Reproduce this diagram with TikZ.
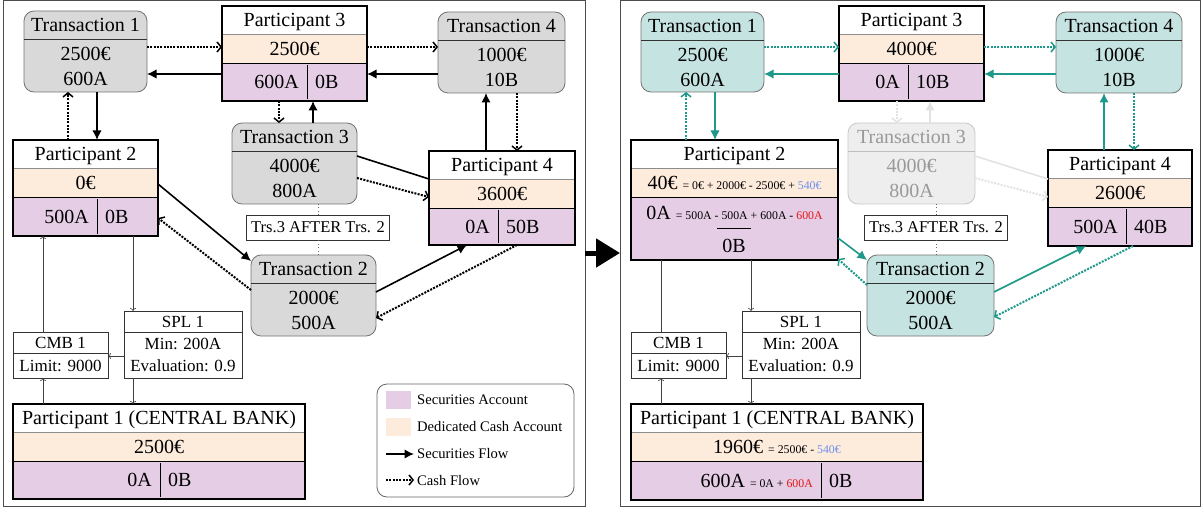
\documentclass[tikz,border=0pt]{standalone}
\usepackage{fontspec}
\setmainfont{Liberation Serif}
\usetikzlibrary{arrows.meta,calc,fit}
\definecolor{peach}{RGB}{253,235,220}
\definecolor{lilac}{RGB}{229,205,229}
\definecolor{tgray}{RGB}{217,217,217}
\definecolor{tteal}{RGB}{197,227,224}
\definecolor{teal2}{RGB}{30,152,136}
\definecolor{fadef}{RGB}{238,238,238}
\definecolor{fadel}{RGB}{226,226,226}
\definecolor{bluev}{RGB}{108,142,239}
\definecolor{redv}{RGB}{228,20,20}
\colorlet{flowcol}{black}
\colorlet{tfill}{tgray}
\colorlet{tborder}{black!55}
\colorlet{theadcol}{black!80}
\colorlet{ttextcol}{black}
\newcommand\bigf{\fontsize{20}{22}\selectfont}
\newcommand\smallf{\fontsize{11.8}{13}\selectfont}
\newcommand\legf{\fontsize{14.6}{16}\selectfont}
\newcommand\boxf{\fontsize{17}{19}\selectfont}
\newcommand\ordf{\fontsize{16.5}{19}\selectfont}
\tikzset{
 ttext/.style={font=\bigf, inner sep=0pt, text height=13.2pt, text depth=0pt, text=ttextcol},
 ptext/.style={font=\bigf, inner sep=0pt, text height=13.2pt, text depth=0pt},
 btext/.style={font=\boxf, inner sep=0pt, text height=11.3pt, text depth=0pt},
 ltext/.style={font=\legf, inner sep=0pt, text height=9.7pt, text depth=0pt, anchor=west},
 tbox/.style={draw=tborder, fill=tfill, rounded corners=10pt, inner sep=0pt, outer sep=0pt, line width=0.8pt},
 thead/.style={draw=theadcol, line width=0.8pt},
 pbox/.style={draw=black, line width=1.1pt, inner sep=0pt, outer sep=0pt},
 sbox/.style={draw=black!80, line width=0.8pt, inner sep=0pt, outer sep=0pt},
 sline/.style={draw=black!80, line width=0.8pt},
 secflow/.style={draw=flowcol, line width=1.6pt, -{Latex[length=9.5pt,width=9.5pt]}},
 secline/.style={draw=flowcol, line width=1.6pt},
 cashflow/.style={draw=flowcol, line width=2pt, dash pattern=on 2pt off 1.3pt, -{Straight Barb[length=4pt,width=10pt,line width=1.5pt]}},
 fadesec/.style={draw=fadel, line width=1.6pt, -{Latex[length=9.5pt,width=9.5pt]}},
 fadeline/.style={draw=fadel, line width=1.6pt},
 fadecash/.style={draw=fadel, line width=2pt, dash pattern=on 2pt off 1.3pt, -{Straight Barb[length=4pt,width=10pt,line width=1.5pt]}},
 thinarrow/.style={draw=black!75, line width=0.6pt, -{To[length=3pt,width=6pt]}},
 thinline/.style={draw=black!75, line width=0.6pt},
 orderline/.style={draw=black!60, line width=0.8pt, dash pattern=on 1pt off 2.5pt},
 orderbox/.style={draw=black!80, line width=0.8pt, font=\ordf, inner xsep=5pt, inner ysep=0pt, text height=11pt, text depth=0pt, minimum height=25pt},
 frame/.style={draw=black!70, line width=1pt},
 legbox/.style={draw=black!60, line width=0.8pt, rounded corners=10pt, inner sep=0pt, outer sep=0pt},
}
% transaction box: name x1 y1 x2 y2 title line1 line2
\newcommand\transbox[8]{%
 \node[tbox, fit={(#2,#3) (#4,#5)}] (#1) {};
 \draw[thead] ($(#1.north west)+(0,28)$) -- ($(#1.north east)+(0,28)$);
 \node[ttext] at ($(#1.north)+(0,14)$) {#6};
 \node[ttext] at ($(#1.north)+(0,43)$) {#7};
 \node[ttext] at ($(#1.north)+(0,68)$) {#8};
}
% participant box: name x1 y1 x2 y2 title cash
\newcommand\partbox[7]{%
 \fill[white] (#2,#3) rectangle (#4,#3+28);
 \fill[peach] (#2,#3+28) rectangle (#4,#3+57);
 \fill[lilac] (#2,#3+57) rectangle (#4,#5);
 \draw[black!45, line width=0.5pt] (#2,#3+28) -- (#4,#3+28);
 \draw[black, line width=0.9pt] (#2,#3+57) -- (#4,#3+57);
 \node[pbox, fit={(#2,#3) (#4,#5)}] (#1) {};
 \node[ptext] at ({(#2+#4)/2},#3+14) {#6};
 \node[ptext] at ({(#2+#4)/2},#3+42.5) {#7};
}
% securities row: xsplit ytop ybottom secA secB
\newcommand\secs[5]{%
 \draw[black, line width=0.8pt] (#1,#2+2) -- (#1,#3-2);
 \node[ptext, anchor=east] at (#1-8,{(#2+#3)/2}) {#4};
 \node[ptext, anchor=west] at (#1+8,{(#2+#3)/2}) {#5};
}
\begin{document}
\begin{tikzpicture}[x=1pt,y=-1pt]
\useasboundingbox (0,0) rectangle (1203,508);
%================ LEFT PANEL
\draw[frame] (3,1) rectangle (585,506);
\transbox{t1}{24}{11}{147}{92}{Transaction 1}{2500€}{600A}
\transbox{t4}{438}{12}{565}{93}{Transaction 4}{1000€}{10B}
\transbox{t3}{232}{123}{357}{204}{Transaction 3}{4000€}{800A}
\transbox{t2}{251}{255}{376}{336}{Transaction 2}{2000€}{500A}
\partbox{p3}{222}{6}{367}{101}{Participant 3}{2500€}
\secs{307}{63}{101}{600A}{0B}
\partbox{p2}{13}{140}{158}{236}{Participant 2}{0€}
\secs{97}{197}{236}{500A}{0B}
\partbox{p4}{429}{151}{575}{245}{Participant 4}{3600€}
\secs{498}{208}{245}{0A}{50B}
\partbox{p1}{13}{404}{305}{499}{Participant 1 (CENTRAL BANK)}{2500€}
\secs{160}{461}{499}{0A}{0B}
\node[orderbox] (ord) at (318,227.5) {Trs.3 AFTER Trs. 2};
\draw[orderline] (t3.south -| ord.center) -- (ord.north);
\draw[orderline] (ord.south) -- (t2.north -| ord.center);
\node[sbox, fit={(13,332) (108,378)}] (cmb) {};
\draw[sline] (13,353) -- (108,353);
\node[btext] at (60.5,342.5) {CMB 1};
\node[btext] at (60.5,366) {Limit: 9000};
\node[sbox, fit={(124,311) (242,378)}] (spl) {};
\draw[sline] (124,332) -- (242,332);
\node[btext] at (183,321.5) {SPL 1};
\node[btext] at (183,344) {Min: 200A};
\node[btext] at (183,366) {Evaluation: 0.9};
\draw[thinarrow] (cmb.north -| 43,0) -- (p2.south -| 43,0);
\draw[thinarrow] (p2.south -| 133,0) -- (spl.north -| 133,0);
\draw[thinarrow] (spl.west |- 0,356) -- (cmb.east |- 0,356);
\draw[thinarrow] (spl.south -| 133,0) -- (p1.north -| 133,0);
\draw[thinarrow] (p1.north -| 43,0) -- (cmb.south -| 43,0);
\draw[cashflow] (t1.east |- 0,47) -- (p3.west |- 0,47);
\draw[secflow] (p3.west |- 0,74) -- (t1.east |- 0,74);
\draw[cashflow] (p3.east |- 0,47) -- (t4.west |- 0,47);
\draw[secflow] (t4.west |- 0,74) -- (p3.east |- 0,74);
\draw[secflow] (t1.south -| 97,0) -- (p2.north -| 97,0);
\draw[cashflow] (p2.north -| 68,0) -- (t1.south -| 68,0);
\draw[cashflow] (p3.south -| 279,0) -- (t3.north -| 279,0);
\draw[secflow] (t3.north -| 313,0) -- (p3.south -| 313,0);
\draw[secflow] (p4.north -| 486,0) -- (t4.south -| 486,0);
\draw[cashflow] (t4.south -| 517,0) -- (p4.north -| 517,0);
\draw[secline] (t3.east |- 0,156) -- (p4.west |- 0,179);
\draw[cashflow] (t3.east |- 0,178) -- (p4.west |- 0,197);
\draw[secflow] (p2.east |- 0,184) -- (t2.west |- 0,261);
\draw[cashflow] (t2.west |- 0,290) -- (p2.east |- 0,218);
\draw[secflow] (t2.east |- 0,292) -- (p4.south -| 467,0);
\draw[cashflow] (p4.south -| 517,0) -- (t2.east |- 0,318);
% legend
\node[legbox, fit={(377,384) (574,497)}] (leg) {};
\fill[lilac] (386,391) rectangle (411,409);
\node[ltext] (lg1) at (417,400) {Securities Account};
\fill[peach] (386,418) rectangle (411,436);
\node[ltext] (lg2) at (417,427) {Dedicated Cash Account};
\coordinate (ls1) at (386,454); \coordinate (ls2) at (414,454);
\draw[secflow] (ls1) -- (ls2);
\node[ltext] (lg3) at (417,454) {Securities Flow};
\coordinate (lc1) at (386,480); \coordinate (lc2) at (414,480);
\draw[cashflow] (lc1) -- (lc2);
\node[ltext] (lg4) at (417,481) {Cash Flow};
%================ BIG ARROW
\coordinate (ba1) at (585,253); \coordinate (ba2) at (620,253);
\draw[line width=5pt, -{Triangle[length=24pt,width=28pt]}] (ba1) -- (ba2);
%================ RIGHT PANEL
\draw[frame] (620,1) rectangle (1200,506);
\begin{scope}
\colorlet{flowcol}{teal2}
\colorlet{tfill}{tteal}
\transbox{rt1}{641}{12}{764}{92}{Transaction 1}{2500€}{600A}
\transbox{rt4}{1056}{12}{1182}{93}{Transaction 4}{1000€}{10B}
\transbox{rt2}{867}{255}{994}{336}{Transaction 2}{2000€}{500A}
\begin{scope}
\colorlet{tfill}{fadef}
\colorlet{tborder}{black!22}
\colorlet{theadcol}{black!25}
\colorlet{ttextcol}{black!40}
\transbox{rt3}{848}{123}{975}{204}{Transaction 3}{4000€}{800A}
\end{scope}
\partbox{rp3}{839}{6}{984}{101}{Participant 3}{4000€}
\secs{908}{63}{101}{0A}{10B}
\partbox{rp4}{1048}{150}{1192}{246}{Participant 4}{2600€}
\secs{1126}{207}{246}{500A}{40B}
\partbox{rp2}{631}{140}{838}{260}{Participant 2}{40€ {\smallf = 0€ + 2000€ - 2500€ + \textcolor{bluev}{540€}}}
\node[ptext] at (734.5,213) {0A {\smallf = 500A - 500A + 600A - \textcolor{redv}{600A}}};
\draw[black, line width=0.8pt] (717,228) -- (751,228);
\node[ptext] at (734,246) {0B};
\partbox{rp1}{631}{404}{923}{500}{Participant 1 (CENTRAL BANK)}{1960€ {\smallf = 2500€ - \textcolor{bluev}{540€}}}
\secs{821}{461}{500}{600A {\smallf = 0A + \textcolor{redv}{600A}}}{0B}
\node[orderbox] (rord) at (936,227.5) {Trs.3 AFTER Trs. 2};
\draw[orderline] (rt3.south -| rord.center) -- (rord.north);
\draw[orderline] (rord.south) -- (rt2.north -| rord.center);
\node[sbox, fit={(631,332) (726,378)}] (rcmb) {};
\draw[sline] (631,353) -- (726,353);
\node[btext] at (678.5,342.5) {CMB 1};
\node[btext] at (678.5,366) {Limit: 9000};
\node[sbox, fit={(742,311) (860,378)}] (rspl) {};
\draw[sline] (742,332) -- (860,332);
\node[btext] at (801,321.5) {SPL 1};
\node[btext] at (801,344) {Min: 200A};
\node[btext] at (801,366) {Evaluation: 0.9};
\draw[thinline] (rcmb.north -| 661,0) -- (rp2.south -| 661,0);
\draw[thinarrow] (rp2.south -| 751,0) -- (rspl.north -| 751,0);
\draw[thinarrow] (rspl.west |- 0,356) -- (rcmb.east |- 0,356);
\draw[thinarrow] (rspl.south -| 751,0) -- (rp1.north -| 751,0);
\draw[thinarrow] (rp1.north -| 661,0) -- (rcmb.south -| 661,0);
\draw[cashflow] (rt1.east |- 0,47) -- (rp3.west |- 0,47);
\draw[secflow] (rp3.west |- 0,74) -- (rt1.east |- 0,74);
\draw[cashflow] (rp3.east |- 0,47) -- (rt4.west |- 0,47);
\draw[secflow] (rt4.west |- 0,74) -- (rp3.east |- 0,74);
\draw[secflow] (rt1.south -| 715,0) -- (rp2.north -| 715,0);
\draw[cashflow] (rp2.north -| 686,0) -- (rt1.south -| 686,0);
\draw[fadecash] (rp3.south -| 897,0) -- (rt3.north -| 897,0);
\draw[fadesec] (rt3.north -| 930,0) -- (rp3.south -| 930,0);
\draw[secflow] (rp4.north -| 1104,0) -- (rt4.south -| 1104,0);
\draw[cashflow] (rt4.south -| 1134,0) -- (rp4.north -| 1134,0);
\draw[fadeline] (rt3.east |- 0,156) -- (rp4.west |- 0,179);
\draw[fadecash] (rt3.east |- 0,178) -- (rp4.west |- 0,197);
\draw[secflow] (rp2.east |- 0,238) -- (rt2.west |- 0,260);
\draw[cashflow] (rt2.west |- 0,285) -- (rp2.east |- 0,259);
\draw[secflow] (rt2.east |- 0,292) -- (rp4.south -| 1086,0);
\draw[cashflow] (rp4.south -| 1133,0) -- (rt2.east |- 0,317);
\end{scope}
\end{tikzpicture}
\end{document}
